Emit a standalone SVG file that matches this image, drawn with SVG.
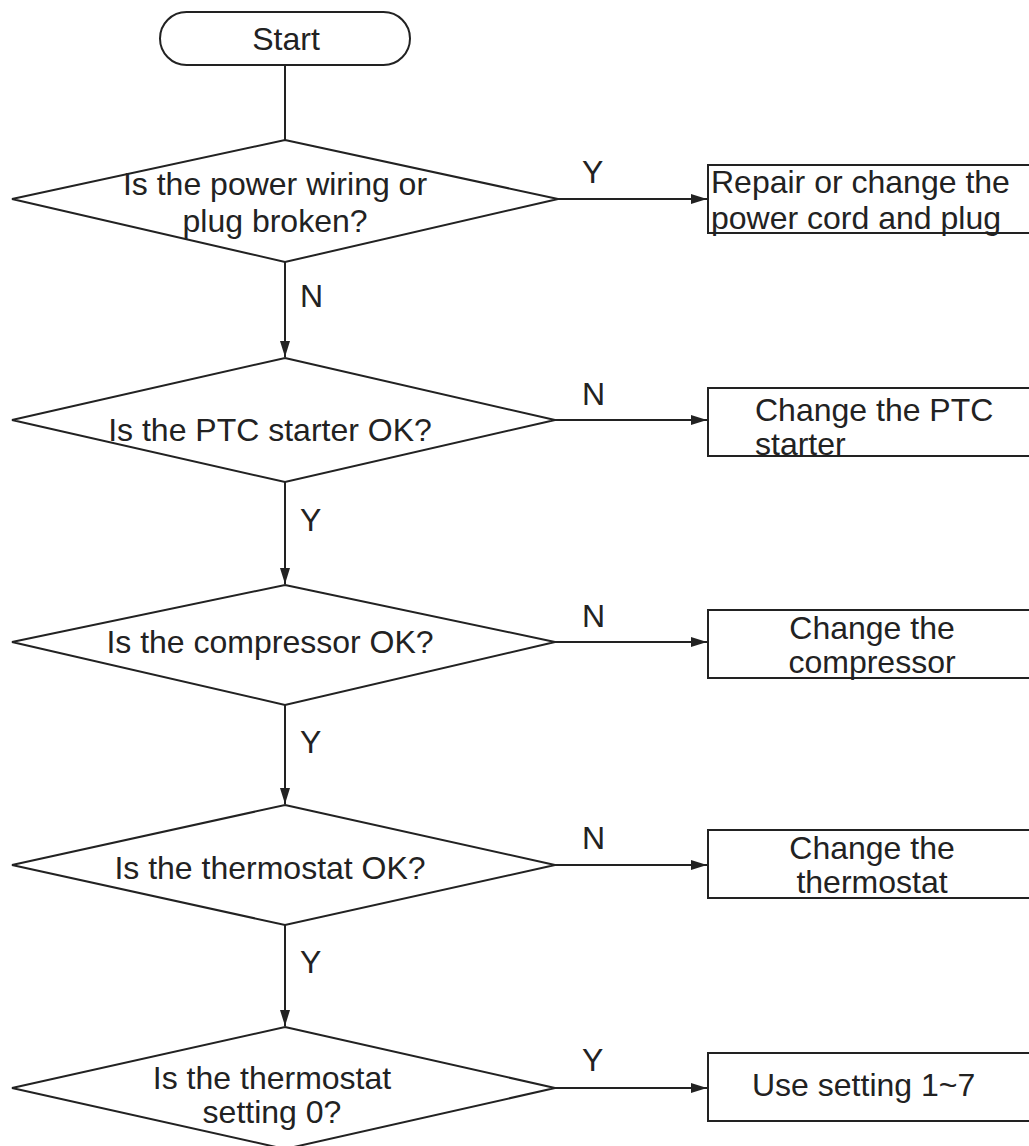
<svg xmlns="http://www.w3.org/2000/svg" width="1029" height="1146" viewBox="0 0 1029 1146">
<style>
.s{fill:#fff;stroke:#222;stroke-width:2}
.c{fill:none;stroke:#222;stroke-width:2}
text{font-family:"Liberation Sans",Arial,sans-serif;font-size:32px;fill:#222}
.m{text-anchor:middle}
</style>
<defs>
<marker id="a" viewBox="0 0 16 10" refX="16" refY="5" markerWidth="16" markerHeight="10" markerUnits="userSpaceOnUse" orient="auto">
<path d="M0,0 L16,5 L0,10 Z" fill="#222"/>
</marker>
</defs>
<rect width="1029" height="1146" fill="#fff"/>
<g id="connectors">
<line class="c" x1="285" y1="65" x2="285" y2="140"/>
<line class="c" x1="285" y1="262" x2="285" y2="357" marker-end="url(#a)"/>
<line class="c" x1="285" y1="482" x2="285" y2="584" marker-end="url(#a)"/>
<line class="c" x1="285" y1="705" x2="285" y2="804" marker-end="url(#a)"/>
<line class="c" x1="285" y1="925" x2="285" y2="1026" marker-end="url(#a)"/>
<line class="c" x1="558" y1="199" x2="707" y2="199" marker-end="url(#a)"/>
<line class="c" x1="555" y1="420" x2="707" y2="420" marker-end="url(#a)"/>
<line class="c" x1="555" y1="642" x2="707" y2="642" marker-end="url(#a)"/>
<line class="c" x1="555" y1="865" x2="707" y2="865" marker-end="url(#a)"/>
<line class="c" x1="555" y1="1088" x2="707" y2="1088" marker-end="url(#a)"/>
<text x="300" y="307">N</text>
<text x="300" y="531">Y</text>
<text x="300" y="753">Y</text>
<text x="300" y="973">Y</text>
<text x="582" y="183">Y</text>
<text x="582" y="405">N</text>
<text x="582" y="627">N</text>
<text x="582" y="849">N</text>
<text x="582" y="1071">Y</text>
</g>
<g id="start">
<rect class="s" x="160" y="12" width="250" height="53" rx="26.5"/>
<text class="m" x="286" y="50">Start</text>
</g>
<g id="q1">
<polygon class="s" points="285,140 558,199 285,262 12,199"/>
<text class="m" x="275" y="195">Is the power wiring or</text>
<text class="m" x="275" y="232">plug broken?</text>
</g>
<g id="r1">
<rect class="s" x="708" y="165" width="330" height="68"/>
<text x="711" y="193">Repair or change the</text>
<text x="711" y="229">power cord and plug</text>
</g>
<g id="q2">
<polygon class="s" points="285,358 555,420 285,482 12,420"/>
<text class="m" x="270" y="441">Is the PTC starter OK?</text>
</g>
<g id="r2">
<rect class="s" x="708" y="388" width="330" height="68"/>
<text x="755" y="421">Change the PTC</text>
<text x="755" y="455">starter</text>
</g>
<g id="q3">
<polygon class="s" points="285,585 555,642 285,705 12,642"/>
<text class="m" x="270" y="653">Is the compressor OK?</text>
</g>
<g id="r3">
<rect class="s" x="708" y="610" width="330" height="68"/>
<text class="m" x="872" y="639">Change the</text>
<text class="m" x="872" y="673">compressor</text>
</g>
<g id="q4">
<polygon class="s" points="285,805 555,865 285,925 12,865"/>
<text class="m" x="270" y="879">Is the thermostat OK?</text>
</g>
<g id="r4">
<rect class="s" x="708" y="830" width="330" height="68"/>
<text class="m" x="872" y="859">Change the</text>
<text class="m" x="872" y="893">thermostat</text>
</g>
<g id="q5">
<polygon class="s" points="285,1027 555,1088 285,1149 12,1088"/>
<text class="m" x="272" y="1089">Is the thermostat</text>
<text class="m" x="272" y="1123">setting 0?</text>
</g>
<g id="r5">
<rect class="s" x="708" y="1053" width="330" height="68"/>
<text x="752" y="1096">Use setting 1~7</text>
</g>
</svg>
